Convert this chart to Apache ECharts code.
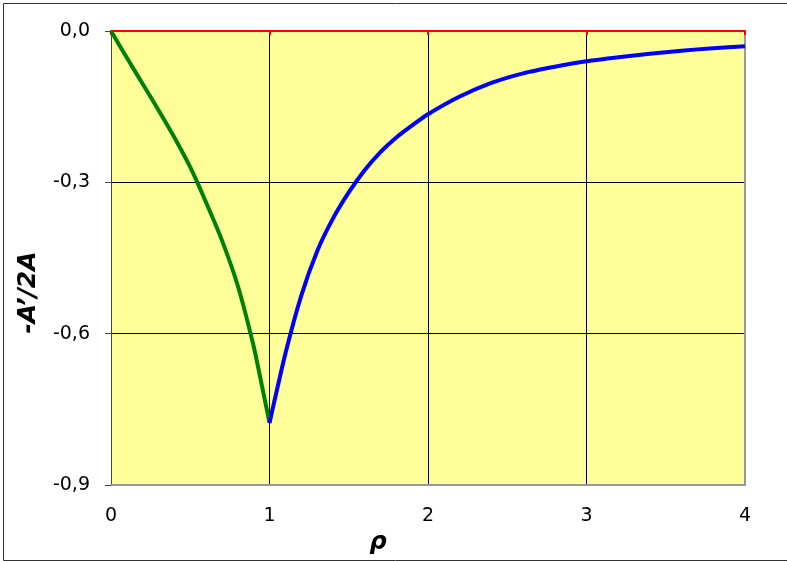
<!DOCTYPE html>
<html>
<head>
<meta charset="utf-8">
<script src="https://cdn.jsdelivr.net/npm/echarts@6/dist/echarts.min.js"></script>
<style>html,body{margin:0;padding:0;background:#fff;}#c{width:787px;height:561px;}</style>
</head>
<body>
<div id="c"></div>
<script>
// Green branch (rho from 0 to 1)
const rhoInner = [0, 0.1, 0.2, 0.3, 0.4, 0.5, 0.6, 0.7, 0.8, 0.9, 0.95, 1.0];
const valInner = [0, -0.053, -0.105, -0.157, -0.211, -0.27, -0.34, -0.415, -0.505, -0.625, -0.70, -0.777];
// Blue branch (rho from 1 to 4)
const rhoOuter = [1.0, 1.1, 1.2, 1.3, 1.4, 1.5, 1.6, 1.7, 1.8, 1.9, 2.0, 2.2, 2.4, 2.6, 2.8, 3.0, 3.2, 3.4, 3.6, 3.8, 4.0];
const valOuter = [-0.777, -0.64, -0.525, -0.437, -0.372, -0.32, -0.276, -0.24, -0.211, -0.187, -0.165, -0.13, -0.103, -0.084, -0.071, -0.060, -0.052, -0.045, -0.039, -0.034, -0.030];
const xTicks = [0, 1, 2, 3, 4];
const yTicks = [-0.9, -0.6, -0.3, 0];
const xName = 'ρ';
const yName = '-A’/2A';

const chart = echarts.init(document.getElementById('c'));
const font = '"DejaVu Sans", Verdana, sans-serif';
chart.setOption({
  backgroundColor: '#ffffff',
  animation: false,
  graphic: [{
    type: 'rect', left: 1, top: 1, z: 100,
    shape: { width: 784, height: 557 },
    style: { fill: 'none', stroke: '#333', lineWidth: 1 }
  }],
  grid: {
    left: 111, right: 42, top: 31, bottom: 76,
    show: true, backgroundColor: '#FFFF99', borderWidth: 0
  },
  xAxis: [{
    type: 'value', position: 'bottom',
    min: xTicks[0], max: xTicks[xTicks.length - 1], interval: 1,
    axisLine: { show: true, onZero: false, lineStyle: { color: '#999', width: 2 } },
    axisTick: { show: false },
    splitLine: { show: true, lineStyle: { color: '#000', width: 1 } },
    axisLabel: { margin: 22, fontSize: 19, color: '#000', fontFamily: font },
    name: xName, nameLocation: 'middle', nameGap: 37,
    nameTextStyle: { fontSize: 24, fontWeight: 'bold', fontStyle: 'italic', color: '#000', fontFamily: font, padding: [0, 100, 0, 0] }
  }, {
    type: 'value', position: 'top',
    min: xTicks[0], max: xTicks[xTicks.length - 1], interval: 1,
    axisLine: { show: true, onZero: false, lineStyle: { color: '#ff0000', width: 2 } },
    axisTick: { show: true, inside: true, length: 4, lineStyle: { color: '#ff0000', width: 2 } },
    splitLine: { show: false },
    axisLabel: { show: false }
  }],
  yAxis: [{
    type: 'value', position: 'left',
    min: yTicks[0], max: yTicks[yTicks.length - 1], interval: 0.3,
    axisLine: { show: true, onZero: false, lineStyle: { color: '#444', width: 1 } },
    axisTick: { show: true, length: 6, lineStyle: { color: '#444', width: 1 } },
    splitLine: { show: true, lineStyle: { color: '#000', width: 1 } },
    axisLabel: {
      margin: 21, fontSize: 19, color: '#000', fontFamily: font,
      formatter: v => v.toFixed(1).replace('.', ',').replace('-0,0', '0,0')
    },
    name: yName, nameLocation: 'middle', nameGap: 70, nameRotate: 90,
    nameTextStyle: { fontSize: 25, fontWeight: 'bold', fontStyle: 'italic', color: '#000', fontFamily: font, padding: [0, 69, 0, 0] }
  }, {
    type: 'value', position: 'right',
    min: yTicks[0], max: yTicks[yTicks.length - 1], interval: 0.3,
    axisLine: { show: true, onZero: false, lineStyle: { color: '#999', width: 2 } },
    axisTick: { show: false }, axisLabel: { show: false }, splitLine: { show: false }
  }],
  series: [{
    type: 'line', xAxisIndex: 0, yAxisIndex: 0,
    data: rhoInner.map((r, i) => [r, valInner[i]]),
    showSymbol: false, smooth: 0.2,
    lineStyle: { color: '#008000', width: 4 }, z: 5
  }, {
    type: 'line', xAxisIndex: 0, yAxisIndex: 0,
    data: rhoOuter.map((r, i) => [r, valOuter[i]]),
    showSymbol: false, smooth: 0.2,
    lineStyle: { color: '#0000ff', width: 4 }, z: 6
  }]
});
</script>
</body>
</html>
